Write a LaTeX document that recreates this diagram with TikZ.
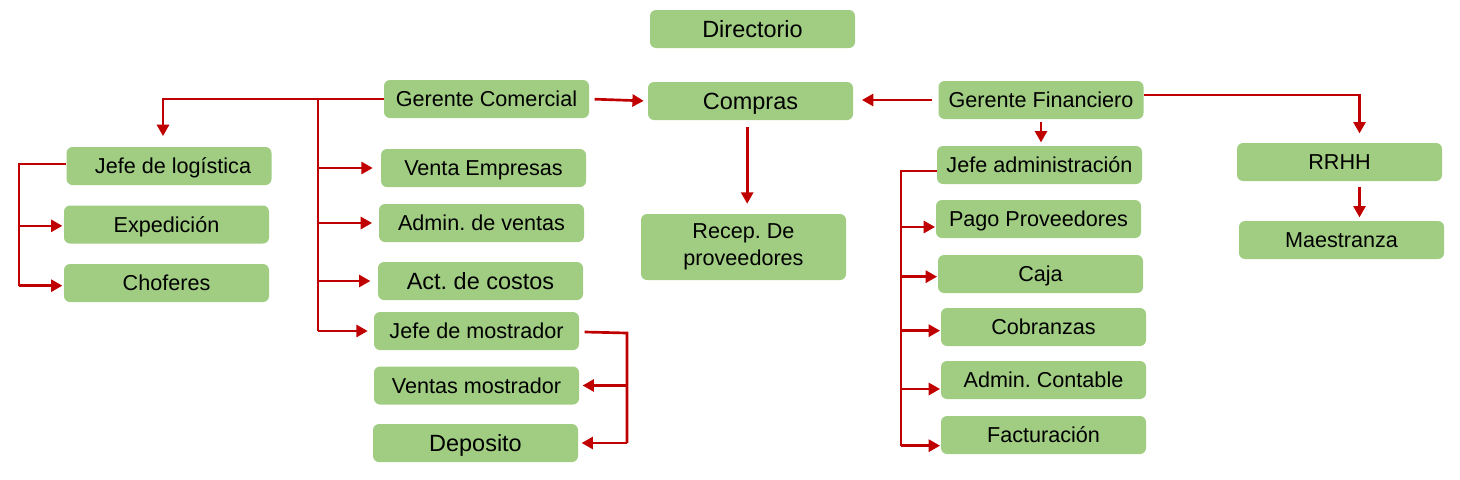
\documentclass[tikz,border=0pt]{standalone}
\usepackage{fontspec}
\setmainfont{Liberation Sans}
\usetikzlibrary{arrows.meta}
\definecolor{boxg}{HTML}{A0CD82}
\definecolor{lred}{HTML}{C00000}
\newcommand\fsN{\fontsize{16.2}{20}\selectfont}
\newcommand\fsB{\fontsize{17.6}{20}\selectfont}
\frenchspacing
\tikzset{
  box/.style={fill=boxg, rounded corners=4.5pt, minimum width=153.75pt, minimum height=28.5pt, inner sep=0pt, font=\fsN\frenchspacing, text=black, text height=11.6pt, text depth=0pt},
  big/.style={font=\fsB\frenchspacing, text height=12.6pt},
  line/.style={draw=lred, line width=2pt},
  arr/.style={line, -{Triangle[length=8.5pt,width=9pt]}},
}
\begin{document}
\begin{tikzpicture}[x=0.75pt,y=-0.75pt]
\useasboundingbox (0,0) rectangle (1460,479);
% nodes
\node[box,big] (dir) at (752.5,29) {Directorio};
\node[box,big] (comp) at (750.5,101) {Compras};
\node[box] (gc) at (486.5,99) {Gerente Comercial};
\node[box] (gf) at (1041,100) {Gerente Financiero};
\node[box] (jl) at (169,166) {\hspace*{6pt}Jefe de logística};
\node[box] (exp) at (166.5,224.5) {Expedición};
\node[box] (cho) at (166.5,283) {Choferes};
\node[box] (ve) at (483.5,168) {Venta Empresas};
\node[box] (av) at (481.5,223) {Admin. de ventas};
\node[box,big] (ac) at (480.5,281) {Act. de costos};
\node[box] (jm) at (476.5,331) {Jefe de mostrador};
\node[box] (vm) at (476.5,385.5) {Ventas mostrador};
\node[box,big] (dep) at (475.5,443) {Deposito};
\node[box,minimum height=49.5pt,align=center,text height=,text depth=] (rec) at (743.5,247) {Recep. De\\proveedores};
\node[box] (ja) at (1039.5,165) {Jefe administración};
\node[box] (pp) at (1038.5,219) {Pago Proveedores};
\node[box] (caja) at (1040.5,274) {Caja};
\node[box] (cob) at (1043.5,327) {Cobranzas};
\node[box] (adc) at (1043.5,380) {Admin. Contable};
\node[box] (fac) at (1043.5,435) {Facturación};
\node[box] (rrhh) at (1339.5,162) {RRHH};
\node[box] (mae) at (1341.5,240) {Maestranza};
% bus coordinates
\coordinate (gcb) at (318,99);
\coordinate (jlb) at (19,164);
\coordinate (jab) at (901,171);
\coordinate (jmb) at (627,332);
% Gerente Comercial
\draw[arr, shorten >=8pt] (gc.west) -| ([xshift=-4.5pt]jl.north);
\draw[line] (gcb) -- (gcb |- jm.west);
\draw[arr, shorten >=6pt] (gcb |- ve.west) -- (ve.west);
\draw[arr, shorten >=5pt] (gcb |- av.west) -- (av.west);
\draw[arr, shorten >=5.5pt] (gcb |- ac.west) -- (ac.west);
\draw[arr, shorten >=4.5pt] (gcb |- jm.west) -- (jm.west);
\draw[arr, shorten <=4pt, shorten >=3pt] (gc.east) -- (comp.west);
% Jefe de logistica
\draw[line] ([yshift=1.5pt]jl.west) -- (jlb) -- ([yshift=-2pt]jlb |- cho.west);
\draw[arr, shorten >=1pt] ([yshift=-1pt]jlb |- exp.west) -- ([yshift=-1pt]exp.west);
\draw[arr, shorten >=1pt] ([yshift=-2pt]jlb |- cho.west) -- ([yshift=-2pt]cho.west);
% Jefe de mostrador
\draw[line] ([yshift=-0.75pt]jm.east) ++(4pt,0) -- ([yshift=-0.75pt]jmb) -- (jmb |- dep.east);
\draw[arr, shorten >=2.5pt] (jmb |- vm.east) -- (vm.east);
\draw[arr, shorten >=2.5pt] (jmb |- dep.east) -- (dep.east);
% Compras
\draw[arr, shorten <=5pt, shorten >=7.5pt] ([xshift=-2.5pt]comp.south) -- ([xshift=-2.5pt]comp.south |- rec.north);
% Gerente Financiero
\draw[arr, shorten <=5pt, shorten >=6.5pt] (gf.west) -- (gf.west -| comp.east);
\draw[arr, shorten <=2pt, shorten >=2.5pt] (gf.south) -- (gf.south |- ja.north);
\draw[arr, shorten >=7pt] ([yshift=3.75pt]gf.east) -| ([xshift=15pt]rrhh.north);
\draw[arr, shorten <=4pt, shorten >=2.5pt] ([xshift=15pt]rrhh.south) -- ([xshift=13.5pt]mae.north);
% Jefe administracion
\draw[line] ([yshift=-4.5pt]ja.west) -- (jab) -- ([yshift=-8pt]jab |- fac.west);
\draw[arr, shorten >=0.5pt] ([yshift=-6pt]jab |- pp.west) -- ([yshift=-6pt]pp.west);
\draw[arr, shorten >=0.5pt] ([yshift=-2pt]jab |- caja.west) -- ([yshift=-2pt]caja.west);
\draw[arr, shorten >=0.5pt] ([yshift=-2.75pt]jab |- cob.west) -- ([yshift=-2.75pt]cob.west);
\draw[arr, shorten >=0.5pt] ([yshift=-6.75pt]jab |- adc.west) -- ([yshift=-6.75pt]adc.west);
\draw[arr, shorten >=0.5pt] ([yshift=-8pt]jab |- fac.west) -- ([yshift=-8pt]fac.west);
\end{tikzpicture}
\end{document}
